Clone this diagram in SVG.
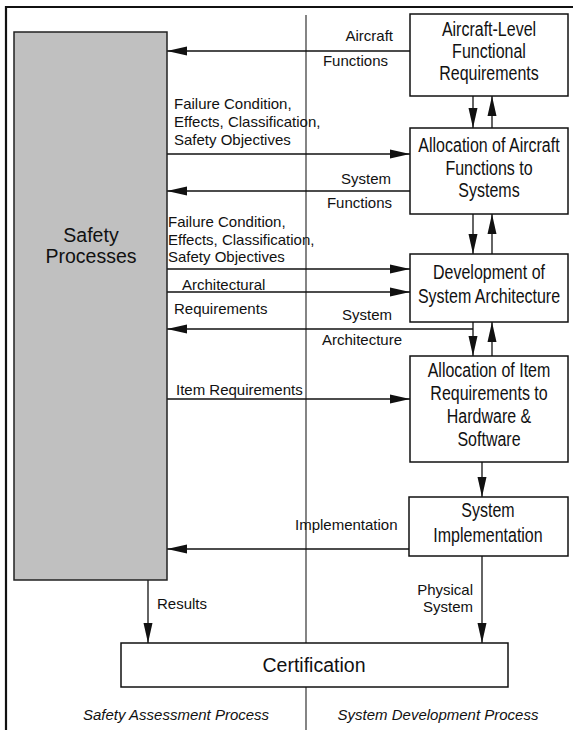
<svg xmlns="http://www.w3.org/2000/svg" width="573" height="730" viewBox="0 0 573 730">
  <defs>
    <marker id="arrow" markerUnits="userSpaceOnUse" markerWidth="20" markerHeight="10" refX="20" refY="5" orient="auto">
      <path d="M0,0.5 L20,5 L0,9.5 Z" fill="#111"/>
    </marker>
    <style>
      .frame { stroke: #111; stroke-width: 2.2; fill: none; }
      .divider { stroke: #333; stroke-width: 1.2; fill: none; }
      .box { fill: #fff; stroke: #111; stroke-width: 1.5; }
      .safety { fill: #c0c0c0; stroke: #222; stroke-width: 1.5; }
      .conn { stroke: #111; stroke-width: 1.3; fill: none; }
      .arr { marker-end: url(#arrow); }
      /* node captions use a condensed face, emulated by a horizontal squeeze */
      .node-text { font-family: "Liberation Sans", Arial, sans-serif; font-size: 19.5px; fill: #111; text-anchor: middle; }
      .big-text { font-family: "Liberation Sans", Arial, sans-serif; font-size: 19.5px; fill: #111; text-anchor: middle; }
      .label { font-family: "Liberation Sans", Arial, sans-serif; font-size: 15px; fill: #111; }
      .end { text-anchor: end; }
      .caption { font-family: "Liberation Sans", Arial, sans-serif; font-size: 15px; font-style: italic; fill: #111; text-anchor: middle; }
    </style>
  </defs>

  <rect width="573" height="730" fill="#fff"/>

  <!-- page frame -->
  <path class="frame" d="M6,730 V7 H573"/>

  <!-- divider between the two processes -->
  <line class="divider" x1="306" y1="15" x2="306" y2="730"/>

  <!-- connectors -->
  <g id="connectors">
    <line class="conn arr" x1="410" y1="51" x2="167" y2="51"/>
    <line class="conn arr" x1="167" y1="154" x2="410" y2="154"/>
    <line class="conn arr" x1="410" y1="191" x2="167" y2="191"/>
    <line class="conn arr" x1="167" y1="269" x2="410" y2="269"/>
    <line class="conn arr" x1="167" y1="292" x2="410" y2="292"/>
    <line class="conn arr" x1="473" y1="329" x2="167" y2="329"/>
    <line class="conn arr" x1="167" y1="399" x2="410" y2="399"/>
    <line class="conn arr" x1="409" y1="549" x2="167" y2="549"/>

    <line class="conn arr" x1="473" y1="96" x2="473" y2="128"/>
    <line class="conn arr" x1="492" y1="128" x2="492" y2="96"/>
    <line class="conn arr" x1="473" y1="214" x2="473" y2="254"/>
    <line class="conn arr" x1="492" y1="254" x2="492" y2="214"/>
    <line class="conn arr" x1="473" y1="322" x2="473" y2="356"/>
    <line class="conn arr" x1="492" y1="356" x2="492" y2="322"/>
    <line class="conn arr" x1="482" y1="462" x2="482" y2="497"/>
    <line class="conn arr" x1="482" y1="556" x2="482" y2="643"/>
    <line class="conn arr" x1="148" y1="580" x2="148" y2="643"/>

    <text class="label end" x="393" y="41">Aircraft</text>
    <text class="label end" x="388" y="66">Functions</text>
    <text class="label" x="174" y="109">Failure Condition,</text>
    <text class="label" x="174" y="127">Effects, Classification,</text>
    <text class="label" x="174" y="145">Safety Objectives</text>
    <text class="label end" x="391" y="184">System</text>
    <text class="label end" x="392" y="208">Functions</text>
    <text class="label" x="168" y="227">Failure Condition,</text>
    <text class="label" x="168" y="245">Effects, Classification,</text>
    <text class="label" x="168" y="262">Safety Objectives</text>
    <text class="label" x="182" y="290">Architectural</text>
    <text class="label" x="174" y="314">Requirements</text>
    <text class="label end" x="392" y="320">System</text>
    <text class="label end" x="402" y="345">Architecture</text>
    <text class="label" x="176" y="395">Item Requirements</text>
    <text class="label" x="295" y="530">Implementation</text>
    <text class="label end" x="473" y="595">Physical</text>
    <text class="label end" x="473" y="612">System</text>
    <text class="label" x="157" y="609">Results</text>
  </g>

  <g id="safety-processes">
    <rect class="safety" x="14" y="32" width="153" height="548"/>
    <text class="big-text" x="91" y="242">Safety</text>
    <text class="big-text" x="91" y="263">Processes</text>
  </g>

  <g id="aircraft-level-requirements">
    <rect class="box" x="410" y="14" width="158" height="82"/>
    <g transform="translate(489 0) scale(0.82 1)">
      <text class="node-text" x="0" y="36">Aircraft-Level</text>
      <text class="node-text" x="0" y="58">Functional</text>
      <text class="node-text" x="0" y="80">Requirements</text>
    </g>
  </g>

  <g id="allocation-aircraft-functions">
    <rect class="box" x="410" y="128" width="158" height="86"/>
    <g transform="translate(489 0) scale(0.82 1)">
      <text class="node-text" x="0" y="152">Allocation of Aircraft</text>
      <text class="node-text" x="0" y="175">Functions to</text>
      <text class="node-text" x="0" y="197">Systems</text>
    </g>
  </g>

  <g id="system-architecture">
    <rect class="box" x="410" y="254" width="158" height="68"/>
    <g transform="translate(489 0) scale(0.82 1)">
      <text class="node-text" x="0" y="279">Development of</text>
      <text class="node-text" x="0" y="303">System Architecture</text>
    </g>
  </g>

  <g id="item-requirements">
    <rect class="box" x="410" y="356" width="158" height="106"/>
    <g transform="translate(489 0) scale(0.82 1)">
      <text class="node-text" x="0" y="377">Allocation of Item</text>
      <text class="node-text" x="0" y="400">Requirements to</text>
      <text class="node-text" x="0" y="423">Hardware &amp;</text>
      <text class="node-text" x="0" y="446">Software</text>
    </g>
  </g>

  <g id="system-implementation">
    <rect class="box" x="409" y="497" width="159" height="59"/>
    <g transform="translate(488 0) scale(0.82 1)">
      <text class="node-text" x="0" y="517">System</text>
      <text class="node-text" x="0" y="542">Implementation</text>
    </g>
  </g>

  <g id="certification">
    <rect class="box" x="121" y="643" width="387" height="44"/>
    <text class="big-text" x="314" y="672">Certification</text>
  </g>

  <text class="caption" x="176" y="720">Safety Assessment Process</text>
  <text class="caption" x="438" y="720">System Development Process</text>
</svg>
